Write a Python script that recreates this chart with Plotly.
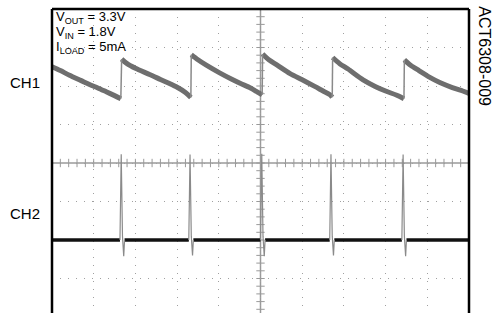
import plotly.graph_objects as go

# ---------------- data (scope divisions) ----------------
# CH1: output ripple, one decaying segment per switching cycle
ch1_seg_t = [
    [0.00, 0.20, 0.42, 0.70, 0.90, 1.10, 1.30, 1.50, 1.65],
    [1.67, 1.80, 2.00, 2.34, 2.60, 2.98, 3.20, 3.33],
    [3.34, 3.50, 3.70, 4.02, 4.30, 4.51, 4.76, 4.90, 5.04],
    [5.05, 5.20, 5.40, 5.71, 6.00, 6.30, 6.50, 6.67, 6.72],
    [6.73, 6.90, 7.10, 7.46, 7.75, 8.00, 8.27, 8.44],
    [8.45, 8.60, 8.80, 9.05, 9.30, 9.60, 9.85, 10.00],
]
ch1_seg_v = [
    [6.50, 6.40, 6.28, 6.14, 6.04, 5.95, 5.85, 5.75, 5.67],
    [6.70, 6.58, 6.46, 6.30, 6.17, 5.98, 5.83, 5.70],
    [6.81, 6.68, 6.54, 6.34, 6.18, 6.07, 5.95, 5.86, 5.77],
    [6.83, 6.68, 6.54, 6.32, 6.16, 5.99, 5.87, 5.77, 5.71],
    [6.74, 6.58, 6.44, 6.16, 5.99, 5.87, 5.76, 5.67],
    [6.68, 6.54, 6.40, 6.23, 6.09, 5.96, 5.87, 5.81],
]

# CH2: switch node, flat baseline with narrow spikes
ch2_base = 2.0
ch2_spike_t = [1.66, 3.31, 5.03, 6.69, 8.42]
ch2_spike_top = [4.23, 4.22, 4.24, 4.23, 4.22]
ch2_spike_dip = [1.58, 1.60, 1.58, 1.60, 1.58]

# annotation text
ch_labels = ["CH1", "CH2"]
ch_label_y = [6.10, 2.68]
cond_lines = ["V<sub>OUT</sub> = 3.3V", "V<sub>IN</sub> = 1.8V", "I<sub>LOAD</sub> = 5mA"]
fig_id = "ACT6308-009"

FONT = "Liberation Sans, Arial, sans-serif"
Y_BOTTOM = 0.104

fig = go.Figure()

# ---- centre axes with minor tick marks ----
tick_pos_x = [i * 0.2 for i in range(51)]
tick_pos_y = [i * 0.2 for i in range(1, 40)]
fig.add_shape(type="line", x0=0, x1=10, y0=4, y1=4, line=dict(color="#9a9a9a", width=1.5), layer="below")
fig.add_shape(type="line", x0=5, x1=5, y0=Y_BOTTOM, y1=8, line=dict(color="#9a9a9a", width=1.5), layer="below")
fig.add_trace(go.Scatter(x=tick_pos_x, y=[4] * len(tick_pos_x), mode="markers",
                         marker=dict(symbol="line-ns", size=6, line=dict(color="#9a9a9a", width=1)),
                         hoverinfo="skip", showlegend=False))
fig.add_trace(go.Scatter(x=[5] * len(tick_pos_y), y=tick_pos_y, mode="markers",
                         marker=dict(symbol="line-ew", size=6, line=dict(color="#9a9a9a", width=1)),
                         hoverinfo="skip", showlegend=False))

# ---- CH1 ----
x1, y1 = [], []
for ts, vs in zip(ch1_seg_t, ch1_seg_v):
    x1 += ts + [None]
    y1 += vs + [None]
fig.add_trace(go.Scatter(x=x1, y=y1, mode="lines",
                         line=dict(color="#6e6e6e", width=5, shape="spline", smoothing=0.8),
                         hoverinfo="skip", showlegend=False))
# jump edges
xj, yj = [], []
for i in range(1, len(ch1_seg_t)):
    xj += [ch1_seg_t[i - 1][-1], ch1_seg_t[i][0], None]
    yj += [ch1_seg_v[i - 1][-1], ch1_seg_v[i][0], None]
fig.add_trace(go.Scatter(x=xj, y=yj, mode="lines", line=dict(color="#8a8a8a", width=1.5),
                         hoverinfo="skip", showlegend=False))

# ---- CH2 baseline ----
xb, yb = [], []
start = 0.0
for s in ch2_spike_t:
    xb += [start, s - 0.03, None]
    yb += [ch2_base, ch2_base, None]
    start = s + 0.08
xb += [start, 10]
yb += [ch2_base, ch2_base]
fig.add_trace(go.Scatter(x=xb, y=yb, mode="lines", line=dict(color="#111111", width=3.5),
                         hoverinfo="skip", showlegend=False))
# spikes
xs, ys = [], []
for s, top, dip in zip(ch2_spike_t, ch2_spike_top, ch2_spike_dip):
    xs += [s - 0.03, s, s + 0.03, s + 0.06, s + 0.08, None]
    ys += [ch2_base, top, ch2_base + 0.1, dip, ch2_base, None]
fig.add_trace(go.Scatter(x=xs, y=ys, mode="lines", line=dict(color="#8a8a8a", width=1.2),
                         hoverinfo="skip", showlegend=False))

# ---- frame (left, top, right) ----
for x0, x1_, y0, y1_ in [(0, 0, 0, 1), (0, 1, 1, 1), (1, 1, 0, 1)]:
    fig.add_shape(type="line", xref="paper", yref="paper", x0=x0, x1=x1_, y0=y0, y1=y1_,
                  line=dict(color="black", width=2.5), layer="above")

# ---- text ----
annos = []
for i, t in enumerate(cond_lines):
    annos.append(dict(x=0.04, y=7.77 - 0.39 * i, xref="x", yref="y", text=t, showarrow=False,
                      xanchor="left", yanchor="middle", font=dict(family=FONT, size=13, color="black")))
for t, yy in zip(ch_labels, ch_label_y):
    annos.append(dict(x=-0.064, y=yy, xref="paper", yref="y", text=t, showarrow=False,
                      xanchor="center", yanchor="middle", font=dict(family=FONT, size=15, color="black")))
annos.append(dict(x=1.037, y=6.76, xref="paper", yref="y", text=fig_id, showarrow=False, textangle=90,
                  xanchor="center", yanchor="middle", font=dict(family=FONT, size=16, color="black")))

fig.update_layout(
    width=492, height=313,
    margin=dict(l=52, r=23, t=9, b=0),
    paper_bgcolor="white", plot_bgcolor="white",
    annotations=annos,
    xaxis=dict(range=[0, 10], showticklabels=False, ticks="", zeroline=False,
               showgrid=True, dtick=1, tick0=0, gridcolor="#a0a0a0", gridwidth=1, griddash="1px,7px",
               showline=False),
    yaxis=dict(range=[Y_BOTTOM, 8], showticklabels=False, ticks="", zeroline=False,
               showgrid=True, dtick=1, tick0=0, gridcolor="#a0a0a0", gridwidth=1, griddash="1px,7px",
               showline=False),
    font=dict(family=FONT),
)

fig.write_html("out.html", config={"displayModeBar": False},
               post_script="document.body.style.margin='0px';document.body.style.overflow='hidden';")
